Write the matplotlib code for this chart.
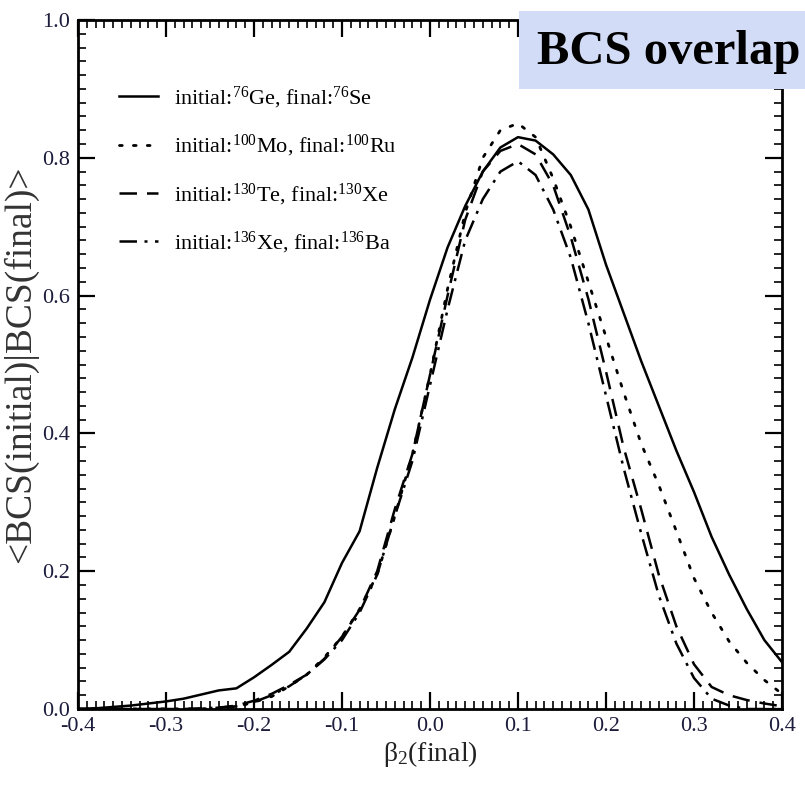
import numpy as np
import matplotlib
matplotlib.use('Agg')
import matplotlib.pyplot as plt
from matplotlib.patches import Rectangle
from matplotlib.ticker import MultipleLocator

plt.rcParams['font.family'] = 'Liberation Serif'
plt.rcParams['mathtext.fontset'] = 'custom'
plt.rcParams['mathtext.rm'] = 'Liberation Serif'
plt.rcParams['mathtext.it'] = 'Liberation Serif'

# beta_2(final) grid and overlaps
beta = [-0.40, -0.38, -0.36, -0.34, -0.32, -0.30, -0.28, -0.26, -0.24, -0.22,
        -0.20, -0.18, -0.16, -0.14, -0.12, -0.10, -0.08, -0.06, -0.04, -0.02,
        0.00, 0.02, 0.04, 0.06, 0.08, 0.10, 0.12, 0.14, 0.16, 0.18,
        0.20, 0.22, 0.24, 0.26, 0.28, 0.30, 0.32, 0.34, 0.36, 0.38, 0.40]

ge76 = [0.000, 0.001, 0.003, 0.005, 0.008, 0.011, 0.015, 0.021, 0.027, 0.030,
        0.046, 0.064, 0.083, 0.117, 0.155, 0.212, 0.258, 0.350, 0.435, 0.510,
        0.594, 0.670, 0.730, 0.780, 0.815, 0.830, 0.825, 0.805, 0.775, 0.725,
        0.645, 0.575, 0.505, 0.440, 0.375, 0.315, 0.250, 0.195, 0.145, 0.100, 0.068]

mo100 = [0.000, 0.000, 0.000, 0.000, 0.000, 0.000, 0.000, 0.000, 0.001, 0.003,
         0.010, 0.018, 0.033, 0.050, 0.075, 0.105, 0.145, 0.195, 0.280, 0.370,
         0.485, 0.610, 0.720, 0.800, 0.840, 0.850, 0.830, 0.770, 0.700, 0.620,
         0.540, 0.460, 0.385, 0.325, 0.258, 0.190, 0.140, 0.098, 0.067, 0.042, 0.022]

te130 = [0.000, 0.000, 0.000, 0.000, 0.000, 0.000, 0.000, 0.000, 0.002, 0.005,
         0.012, 0.022, 0.035, 0.050, 0.073, 0.105, 0.144, 0.200, 0.290, 0.370,
         0.485, 0.600, 0.710, 0.780, 0.810, 0.820, 0.805, 0.760, 0.685, 0.595,
         0.490, 0.380, 0.290, 0.195, 0.120, 0.065, 0.032, 0.020, 0.013, 0.008, 0.004]

xe136 = [0.000, 0.000, 0.000, 0.000, 0.000, 0.000, 0.000, 0.001, 0.002, 0.004,
         0.010, 0.020, 0.033, 0.050, 0.072, 0.100, 0.140, 0.195, 0.280, 0.360,
         0.470, 0.580, 0.680, 0.740, 0.780, 0.795, 0.775, 0.725, 0.655, 0.560,
         0.455, 0.350, 0.255, 0.165, 0.095, 0.045, 0.015, 0.005, 0.000, 0.000, 0.000]

labels = [r'initial:$^{76}$Ge, final:$^{76}$Se',
          r'initial:$^{100}$Mo, final:$^{100}$Ru',
          r'initial:$^{130}$Te, final:$^{130}$Xe',
          r'initial:$^{136}$Xe, final:$^{136}$Ba']

fig = plt.figure(figsize=(8.05, 7.85), dpi=100)
ax = fig.add_axes([0.0969, 0.0968, 0.8745, 0.8777])

ax.plot(beta, ge76, color='k', lw=1.8, linestyle='-', label=labels[0])
ax.plot(beta, mo100, color='k', lw=2.0, linestyle=(0, (1, 4)),
        dash_capstyle='round', label=labels[1])
ax.plot(beta, te130, color='k', lw=1.8, linestyle=(0, (7, 4)), label=labels[2])
ax.plot(beta, xe136, color='k', lw=1.8, linestyle=(0, (7, 3, 1.2, 3)), label=labels[3])

ax.set_xlim(-0.4, 0.4)
ax.set_ylim(0.0, 1.0)
ax.xaxis.set_minor_locator(MultipleLocator(0.01))
ax.yaxis.set_minor_locator(MultipleLocator(0.02))
ax.set_xticks(np.arange(-0.4, 0.41, 0.1))
ax.set_xticklabels(['-0.4', '-0.3', '-0.2', '-0.1', '0.0', '0.1', '0.2', '0.3', '0.4'])
ax.set_yticks(np.arange(0.0, 1.01, 0.2))
ax.set_yticklabels(['0.0', '0.2', '0.4', '0.6', '0.8', '1.0'])
ax.tick_params(which='both', direction='in', top=True, right=True,
               labelsize=16, labelcolor='#1c1c3c', pad=6)
ax.tick_params(which='major', length=12, width=1.6)
ax.tick_params(which='minor', length=6, width=1.2)
for s in ax.spines.values():
    s.set_linewidth(2)

ax.set_xlabel('β$_2$(final)', fontsize=20, color='#222', labelpad=2)
ax.set_ylabel('<BCS(initial)|BCS(final)>', fontsize=27, color='#333', labelpad=3)

ax.legend(loc='upper left', bbox_to_anchor=(0.03, 0.935), frameon=False,
          fontsize=16, handlelength=1.75, handletextpad=0.7, labelspacing=1.0)

# title box in the corner
fig.patches.append(Rectangle((519 / 805, 1 - 89 / 785), 286 / 805, 78 / 785,
                             transform=fig.transFigure, facecolor='#d3dcf6',
                             edgecolor='none', zorder=5))
fig.text(669 / 805, 1 - 52 / 785, 'BCS overlap', fontsize=35, fontweight='bold',
         ha='center', va='center', zorder=6)

fig.savefig('out.png', dpi=100)
